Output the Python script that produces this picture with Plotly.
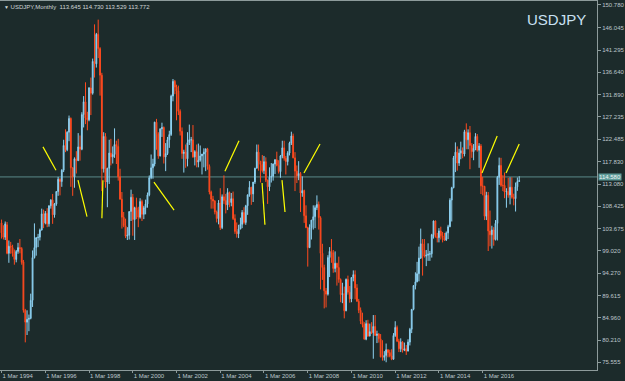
import pandas as pd
import plotly.graph_objects as go

# ---- USDJPY monthly OHLC, Mar 1994 .. Nov 2017 ----
START_MONTH = "1994-03-01"

OPEN = [
    104.9, 102.8, 101.9, 104.5, 98.5, 100.0, 99.7, 98.5, 97.2, 98.9,
    99.7, 99.5, 96.7, 86.5, 84.0, 84.6, 84.8, 88.6, 97.6, 99.7, 101.8, 101.9,
    103.4, 106.8, 104.9, 106.9, 104.7, 108.5, 109.7, 106.6, 108.9, 111.5, 114.1, 113.6,
    116.0, 121.2, 120.3, 124.0, 126.9, 116.5, 114.6, 118.4, 118.0, 120.9, 120.4, 127.7,
    130.4, 127.0, 126.6, 133.3, 132.2, 138.9, 138.4, 144.6, 141.6, 136.0, 116.3, 123.1,
    113.5, 116.4, 119.6, 118.8, 119.3, 121.4, 121.0, 114.6, 109.9, 106.1, 104.3, 102.1,
    102.3, 107.3, 110.3, 105.6, 108.1, 107.6, 106.1, 109.4, 106.7, 108.1, 108.9, 110.8,
    114.4, 116.5, 117.3, 126.1, 123.6, 119.0, 124.7, 125.0, 118.8, 119.5, 122.4, 123.5,
    131.6, 134.7, 133.5, 132.7, 128.4, 124.2, 119.5, 119.8, 118.4, 121.8, 122.4, 122.4,
    118.8, 119.9, 117.7, 118.1, 119.0, 119.4, 119.8, 120.5, 116.8, 111.4, 109.9, 109.5,
    107.2, 105.8, 109.1, 103.9, 110.4, 109.6, 108.7, 111.3, 109.2, 110.0, 105.8, 103.1,
    102.6, 103.6, 104.6, 107.1, 105.0, 108.5, 110.8, 112.4, 111.0, 113.5, 116.4, 119.8,
    117.9, 117.2, 115.9, 117.8, 113.9, 112.5, 114.5, 114.7, 117.3, 118.2, 117.0, 115.7,
    119.0, 120.7, 118.5, 117.8, 119.6, 121.7, 123.2, 118.6, 115.8, 114.8, 115.3, 111.2,
    111.7, 106.4, 103.9, 99.7, 103.9, 105.5, 106.2, 108.1, 108.8, 106.0, 98.5, 95.5,
    90.6, 89.9, 97.6, 98.9, 98.6, 95.3, 96.4, 95.5, 93.0, 89.8, 90.0, 86.4,
    93.0, 90.3, 88.9, 93.4, 94.0, 91.2, 88.4, 86.5, 84.2, 83.5, 80.4, 83.7,
    81.1, 82.0, 81.8, 83.1, 81.2, 81.5, 80.5, 76.7, 76.6, 77.0, 78.2, 77.6,
    76.9, 76.2, 81.2, 82.9, 80.0, 78.4, 79.8, 78.1, 78.4, 77.9, 79.8, 82.5,
    86.7, 91.7, 92.5, 94.2, 97.5, 100.5, 99.1, 97.9, 98.1, 98.3, 98.4, 102.4,
    105.3, 102.0, 101.8, 103.2, 102.2, 101.8, 101.3, 102.8, 104.1, 109.7, 112.3, 118.6,
    119.8, 117.5, 119.6, 120.1, 119.4, 124.1, 122.4, 123.9, 121.2, 119.9, 120.6, 123.1,
    120.2, 121.1, 112.7, 112.6, 106.3, 110.7, 103.2, 102.4, 103.4, 101.4, 104.8, 114.5,
    117.0, 112.8, 112.8, 111.4, 111.5, 110.8, 112.4, 110.3, 110.0, 112.5, 113.645,
]
HIGH = [
    105.6, 104.4, 105.2, 105.1, 101.2, 100.9, 100.3, 99.3, 99.2, 100.7,
    101.5, 99.8, 97.1, 86.8, 86.5, 85.6, 90.0, 99.1, 104.8, 101.5, 102.6, 103.7,
    107.9, 107.7, 107.4, 108.0, 108.6, 109.9, 111.0, 109.1, 111.6, 114.6, 114.3, 116.2,
    122.4, 124.6, 124.2, 127.5, 127.1, 116.6, 118.7, 120.0, 123.8, 123.3, 128.2, 131.6,
    134.5, 128.3, 133.5, 135.5, 139.5, 146.7, 144.9, 147.7, 141.9, 136.5, 124.0, 123.8,
    116.5, 122.4, 122.6, 121.0, 124.8, 122.2, 122.6, 116.3, 111.4, 107.2, 105.8, 104.0,
    107.3, 111.9, 111.0, 108.3, 110.2, 108.3, 110.1, 109.8, 108.5, 109.8, 111.3, 114.9,
    119.3, 118.4, 126.2, 126.8, 124.0, 124.8, 126.0, 125.2, 121.7, 123.0, 124.3, 131.9,
    135.2, 135.0, 134.0, 133.8, 128.8, 125.0, 120.3, 121.4, 124.0, 125.6, 123.0, 125.5,
    120.2, 121.4, 121.6, 121.2, 119.3, 120.6, 120.5, 120.7, 117.2, 111.7, 110.6, 109.7,
    107.5, 109.7, 112.2, 110.9, 114.9, 111.0, 112.2, 111.5, 111.2, 111.5, 106.7, 105.0,
    104.5, 106.0, 107.6, 108.2, 108.7, 110.9, 113.7, 112.5, 113.5, 116.5, 121.4, 121.4,
    117.9, 119.2, 119.0, 118.7, 114.0, 116.6, 117.5, 117.4, 118.3, 119.9, 118.1, 119.2,
    122.2, 122.2, 119.0, 120.0, 122.0, 124.1, 123.7, 119.8, 117.0, 117.9, 115.6, 114.7,
    111.9, 108.6, 104.1, 104.6, 105.5, 108.6, 108.6, 110.7, 109.4, 106.3, 100.5, 96.1,
    91.2, 98.1, 99.8, 101.5, 99.2, 98.9, 96.5, 97.8, 93.2, 92.3, 91.5, 93.2,
    93.8, 91.6, 93.4, 94.9, 94.9, 92.0, 88.9, 87.1, 86.0, 84.0, 84.4, 84.5,
    83.7, 84.0, 85.5, 85.5, 82.2, 81.7, 81.5, 80.2, 77.9, 79.5, 78.3, 78.2,
    78.3, 81.7, 84.2, 83.3, 80.5, 80.6, 80.0, 79.7, 79.2, 80.4, 82.8, 86.7,
    91.8, 94.5, 96.7, 99.9, 103.7, 101.5, 101.5, 99.2, 100.6, 99.0, 102.6, 105.4,
    105.4, 102.8, 103.8, 104.1, 103.0, 102.8, 103.1, 104.5, 110.1, 112.5, 119.0, 121.85,
    121.0, 120.5, 122.0, 120.8, 124.5, 125.86, 124.6, 125.3, 121.7, 121.5, 123.8, 123.6,
    121.7, 121.5, 114.6, 112.7, 111.45, 111.4, 107.5, 104.3, 104.0, 105.5, 114.8, 118.66,
    118.6, 114.95, 115.5, 112.2, 114.4, 114.5, 114.5, 111.05, 113.4, 114.45, 114.73,
]
LOW = [
    101.6, 101.4, 101.3, 98.3, 96.5, 98.4, 97.8, 96.1, 96.6, 98.4,
    98.5, 96.1, 86.0, 79.75, 81.3, 82.1, 84.6, 87.2, 97.4, 98.0, 99.8, 101.2,
    103.3, 103.8, 104.6, 104.0, 104.1, 107.9, 104.7, 106.0, 108.5, 110.6, 110.7, 112.5,
    115.6, 119.8, 120.0, 122.1, 112.5, 110.6, 112.3, 115.3, 118.0, 118.0, 120.2, 125.0,
    125.7, 124.4, 126.3, 127.6, 131.9, 135.5, 137.6, 139.6, 131.7, 111.6, 115.5, 112.3,
    108.2, 113.1, 117.0, 117.4, 118.6, 117.3, 113.8, 109.8, 103.7, 104.0, 101.7, 101.3,
    101.4, 105.3, 102.2, 101.3, 105.7, 104.0, 105.8, 105.3, 105.7, 106.7, 108.1, 110.5,
    114.1, 114.2, 116.8, 120.3, 118.4, 118.9, 123.0, 117.4, 115.8, 119.2, 120.7, 123.2,
    130.5, 132.0, 126.5, 127.6, 123.3, 118.4, 115.5, 116.5, 116.8, 121.3, 119.8, 118.6,
    117.0, 116.6, 116.6, 117.8, 115.1, 116.6, 115.8, 116.1, 110.9, 107.9, 107.9, 106.7,
    105.0, 104.6, 103.4, 103.6, 108.9, 106.9, 107.6, 108.2, 108.4, 105.5, 102.6, 101.8,
    101.7, 103.6, 103.8, 104.6, 104.5, 106.6, 110.4, 108.7, 109.3, 113.1, 116.4, 115.9,
    113.4, 115.5, 115.2, 113.5, 108.9, 111.6, 113.4, 113.8, 115.2, 116.8, 115.3, 114.4,
    118.5, 118.0, 115.1, 117.0, 119.1, 121.3, 118.5, 111.6, 113.3, 113.9, 107.2, 110.4,
    104.9, 103.8, 95.7, 99.6, 101.4, 103.5, 103.8, 107.6, 103.5, 90.9, 92.9, 86.9,
    87.1, 89.6, 93.5, 96.5, 94.4, 94.5, 91.7, 92.3, 88.2, 88.0, 84.8, 86.3,
    89.8, 88.1, 88.2, 92.6, 88.8, 88.3, 85.9, 83.6, 82.9, 80.4, 80.2, 80.9,
    81.0, 81.5, 76.3, 81.1, 79.6, 79.7, 76.6, 75.9, 75.9, 75.56, 76.6, 76.6,
    76.0, 76.1, 80.9, 79.8, 77.7, 77.7, 77.6, 77.9, 77.1, 77.9, 79.1, 81.7,
    86.5, 90.9, 92.4, 92.6, 97.3, 93.8, 97.6, 95.8, 96.9, 96.9, 97.6, 101.6,
    101.8, 100.8, 100.8, 101.4, 100.8, 101.1, 101.1, 101.5, 104.0, 105.2, 112.2, 115.6,
    115.9, 116.9, 118.3, 118.5, 118.9, 120.4, 120.4, 116.2, 118.6, 118.1, 120.2, 119.9,
    116.5, 110.98, 110.7, 105.5, 105.5, 98.98, 99.98, 99.5, 100.1, 101.2, 101.2, 112.9,
    112.5, 111.6, 110.1, 108.1, 110.2, 108.8, 110.0, 108.6, 107.3, 111.65, 113.529,
]
CLOSE = [
    102.8, 101.9, 104.7, 98.5, 100.0, 99.8, 98.5, 97.2, 98.9, 99.7,
    99.5, 96.6, 86.5, 84.0, 84.6, 84.8, 88.6, 97.6, 99.7, 101.8, 101.9, 103.4,
    106.8, 104.9, 106.9, 104.7, 108.5, 109.7, 106.6, 108.9, 111.5, 114.1, 113.6, 116.0,
    121.2, 120.3, 124.0, 126.9, 116.5, 114.6, 118.4, 118.0, 120.9, 120.4, 127.7, 130.4,
    127.0, 126.6, 133.3, 132.2, 138.9, 138.4, 144.6, 141.6, 136.0, 116.3, 123.1, 113.5,
    116.4, 119.6, 118.8, 119.3, 121.4, 121.0, 114.6, 109.9, 106.1, 104.3, 102.1, 102.3,
    107.3, 110.3, 105.6, 108.1, 107.6, 106.1, 109.4, 106.7, 108.1, 108.9, 110.8, 114.4,
    116.5, 117.3, 126.1, 123.6, 119.0, 124.7, 125.0, 118.8, 119.5, 122.4, 123.5, 131.6,
    134.7, 133.5, 132.7, 128.4, 124.2, 119.5, 119.8, 118.4, 121.8, 122.4, 122.4, 118.8,
    119.9, 117.7, 118.1, 119.0, 119.4, 119.8, 120.5, 116.8, 111.4, 109.9, 109.5, 107.2,
    105.8, 109.1, 103.9, 110.4, 109.6, 108.7, 111.3, 109.2, 110.0, 105.8, 103.1, 102.6,
    103.6, 104.6, 107.1, 105.0, 108.5, 110.8, 112.4, 111.0, 113.5, 116.4, 119.8, 117.9,
    117.2, 115.9, 117.8, 113.9, 112.5, 114.5, 114.7, 117.3, 118.2, 117.0, 115.7, 119.0,
    120.7, 118.5, 117.8, 119.6, 121.7, 123.2, 118.6, 115.8, 114.8, 115.3, 111.2, 111.7,
    106.4, 103.9, 99.7, 103.9, 105.5, 106.2, 108.1, 108.8, 106.0, 98.5, 95.5, 90.6,
    89.9, 97.6, 98.9, 98.6, 95.3, 96.4, 95.5, 93.0, 89.8, 90.0, 86.4, 93.0,
    90.3, 88.9, 93.4, 94.0, 91.2, 88.4, 86.5, 84.2, 83.5, 80.4, 83.7, 81.1,
    82.0, 81.8, 83.1, 81.2, 81.5, 80.5, 76.7, 76.6, 77.0, 78.2, 77.6, 76.9,
    76.2, 81.2, 82.9, 80.0, 78.4, 79.8, 78.1, 78.4, 77.9, 79.8, 82.5, 86.7,
    91.7, 92.5, 94.2, 97.5, 100.5, 99.1, 97.9, 98.1, 98.3, 98.4, 102.4, 105.3,
    102.0, 101.8, 103.2, 102.2, 101.8, 101.3, 102.8, 104.1, 109.7, 112.3, 118.6, 119.8,
    117.5, 119.6, 120.1, 119.4, 124.1, 122.4, 123.9, 121.2, 119.9, 120.6, 123.1, 120.2,
    121.1, 112.7, 112.6, 106.3, 110.7, 103.2, 102.4, 103.4, 101.4, 104.8, 114.5, 117.0,
    112.8, 112.8, 111.4, 111.5, 110.8, 112.4, 110.3, 110.0, 112.5, 113.6, 113.772,
]

# axis ticks
PRICE_TICKS = [150.780, 146.045, 141.295, 136.640, 131.890, 127.235, 122.485, 117.830,
               113.080, 108.425, 103.675, 99.020, 94.270, 89.615, 84.960, 80.210, 75.555]
DATE_TICKS = ["1994-03-01", "1996-03-01", "1998-03-01", "2000-03-01", "2002-03-01",
              "2004-03-01", "2006-03-01", "2008-03-01", "2010-03-01", "2012-03-01",
              "2014-03-01", "2016-03-01"]
DATE_TICK_TEXT = ["1 Mar 1994", "1 Mar 1996", "1 Mar 1998", "1 Mar 2000", "1 Mar 2002",
                  "1 Mar 2004", "1 Mar 2006", "1 Mar 2008", "1 Mar 2010", "1 Mar 2012",
                  "1 Mar 2014", "1 Mar 2016"]

BID = 114.580
HEADER = "USDJPY,Monthly  113.645 114.730 113.529 113.772"

# hand-drawn yellow trend lines (start date, start price, end date, end price)
TL_X0 = ["1996-01-22", "1997-08-28", "1998-10-19", "2001-02-17", "2004-05-18",
         "2006-01-28", "2006-12-27", "2007-12-29", "2016-02-18", "2017-03-26"]
TL_Y0 = [120.9, 113.9, 113.9, 113.5, 115.8, 113.3, 113.9, 115.4, 115.4, 115.4]
TL_X1 = ["1996-08-26", "1998-01-26", "1998-10-02", "2002-01-19", "2005-01-08",
         "2006-03-17", "2007-02-15", "2008-09-22", "2016-10-29", "2017-11-01"]
TL_Y1 = [116.0, 106.2, 105.9, 107.6, 122.2, 104.5, 107.2, 121.5, 123.2, 121.5]

BG = "#1c2b2b"
FRAME = "#8d9b9b"
TXT = "#bcc6cb"

dates = pd.date_range(START_MONTH, periods=len(CLOSE), freq="MS")

fig = go.Figure()
fig.add_trace(go.Candlestick(
    x=dates, open=OPEN, high=HIGH, low=LOW, close=CLOSE,
    increasing=dict(line=dict(color="#8fd2f2", width=1), fillcolor="#5fa6cf"),
    decreasing=dict(line=dict(color="#ff4a1f", width=1), fillcolor="#dd3f1c"),
    hoverinfo="skip", showlegend=False,
))

shapes = [dict(type="line", xref="paper", x0=0, x1=1, yref="y", y0=BID, y1=BID,
               line=dict(color="#5a8a8a", width=1), layer="below")]
for x0, y0, x1, y1 in zip(TL_X0, TL_Y0, TL_X1, TL_Y1):
    shapes.append(dict(type="line", xref="x", yref="y", x0=x0, y0=y0, x1=x1, y1=y1,
                       line=dict(color="#ffff00", width=1.2)))

annotations = [
    dict(xref="paper", yref="paper", x=0, y=1, xanchor="left", yanchor="top",
         xshift=2, yshift=-1, showarrow=False,
         text="<span style='font-size:5px'>▼</span> " + HEADER,
         font=dict(family="Liberation Sans, Arial", size=6, color="#d0d6d8")),
    dict(xref="paper", yref="paper", x=588 / 597, y=1, xanchor="right", yanchor="top",
         yshift=-8, showarrow=False, text="USDJPY",
         font=dict(family="Liberation Sans, Arial", size=15, color="#c9e1f3")),
    dict(xref="paper", yref="y", x=1, y=BID, xanchor="left", yanchor="middle",
         xshift=1, showarrow=False, text=f"{BID:.3f}", bgcolor="#5e9c9a",
         borderpad=0, font=dict(family="Liberation Sans, Arial", size=6, color="#eef4f4")),
]

fig.update_layout(
    width=625, height=381,
    margin=dict(l=0, r=28, t=1, b=11),
    paper_bgcolor=BG, plot_bgcolor=BG,
    shapes=shapes, annotations=annotations,
    showlegend=False,
    xaxis=dict(
        type="date", range=["1994-02-03", "2021-05-23"],
        rangeslider=dict(visible=False),
        tickvals=DATE_TICKS, ticktext=DATE_TICK_TEXT,
        ticklabelposition="outside right",
        ticks="outside", ticklen=2, tickcolor=FRAME,
        showgrid=False, zeroline=False,
        showline=True, linecolor=FRAME, linewidth=1, mirror=True,
        tickfont=dict(family="Liberation Sans, Arial", size=6, color=TXT),
    ),
    yaxis=dict(
        side="right", range=[73.93, 151.62],
        tickvals=PRICE_TICKS, ticktext=[f"{v:.3f}" for v in PRICE_TICKS],
        ticks="outside", ticklen=3, tickcolor=FRAME,
        showgrid=False, zeroline=False,
        showline=True, linecolor=FRAME, linewidth=1, mirror=True,
        tickfont=dict(family="Liberation Sans, Arial", size=6, color=TXT),
    ),
)

fig.write_html("out.html")
